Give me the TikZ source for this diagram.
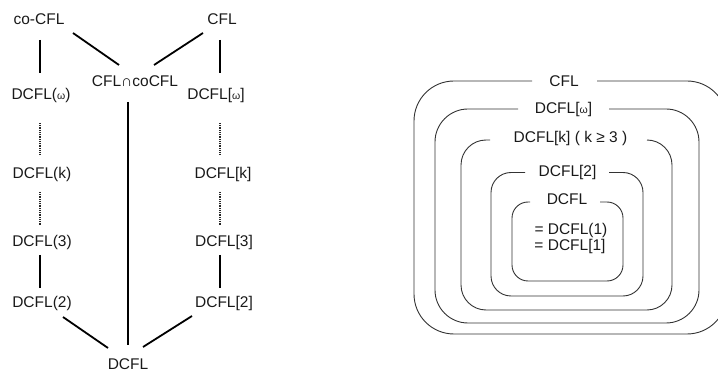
\documentclass[tikz,border=0pt]{standalone}
\usepackage{fontspec}
\setmainfont{Liberation Sans}
\newcommand{\myomega}{{\fontsize{10.5}{10}\selectfont ω}}
\begin{document}
\begin{tikzpicture}[x=1pt,y=-1pt,
  lbl/.style={anchor=base, inner sep=0pt, font=\fontsize{15.5}{18}\selectfont, text=black!90},
  edge/.style={line width=1.8pt, black},
  dots/.style={line width=1.6pt, black!85, dash pattern=on 1pt off 0.8pt},
  shell/.style={line width=0.9pt, black!80, rounded corners=#1}]
\useasboundingbox (0,0) rectangle (718,374);
\clip (0,0) rectangle (718,374);
% ---- left lattice ----
\node[lbl] (cocfl) at (39,25) {co-CFL};
\node[lbl] (cfl) at (222,25) {CFL};
\node[lbl] (cap) at (135,87) {CFL∩coCFL};
\node[lbl] (dw) at (41,100) {DCFL(\myomega)};
\node[lbl] (dW) at (216,100) {DCFL[\myomega]};
\node[lbl] (dk) at (42,179) {DCFL(k)};
\node[lbl] (dK) at (223,179) {DCFL[k]};
\node[lbl] (d3) at (42,247) {DCFL(3)};
\node[lbl] (d3r) at (224,247) {DCFL[3]};
\node[lbl] (d2) at (42,308) {DCFL(2)};
\node[lbl] (d2r) at (224,308) {DCFL[2]};
\node[lbl] (dcfl) at (128,369) {DCFL};
\draw[edge] ([shift={(1,15)}]cocfl.base) -- ([shift={(-1,-27)}]dw.base);
\draw[edge] ([shift={(34,8)}]cocfl.base) -- ([shift={(-16,-22)}]cap.base);
\draw[edge] ([shift={(-19,8)}]cfl.base) -- ([shift={(19,-22)}]cap.base);
\draw[edge] ([shift={(-2,15)}]cfl.base) -- ([shift={(4,-27)}]dW.base);
\draw[dots] ([shift={(-1,23)}]dw.base) -- ([shift={(-2,-24)}]dk.base);
\draw[dots] ([shift={(4,23)}]dW.base) -- ([shift={(-3,-24)}]dK.base);
\draw[dots] ([shift={(-2,13)}]dk.base) -- ([shift={(-2,-22)}]d3.base);
\draw[dots] ([shift={(-3,13)}]dK.base) -- ([shift={(-4,-22)}]d3r.base);
\draw[edge] ([shift={(-2,8)}]d3.base) -- ([shift={(-2,-20)}]d2.base);
\draw[edge] ([shift={(-4,8)}]d3r.base) -- ([shift={(-4,-20)}]d2r.base);
\draw[edge] ([shift={(21,9)}]d2.base) -- ([shift={(-20,-21)}]dcfl.base);
\draw[edge] ([shift={(-32,8)}]d2r.base) -- ([shift={(15,-22)}]dcfl.base);
\draw[edge] ([shift={(-7,15)}]cap.base) -- ([shift={(0,-24)}]dcfl.base);
% ---- right nested shells ----
\draw[shell=40pt] (597,81) -- (727,81) -- (727,334) -- (414,334) -- (414,81) -- (532,81);
\draw[shell=33pt] (609,109) -- (699,109) -- (699,323) -- (435,323) -- (435,109) -- (518,109);
\draw[shell=25pt] (647,140) -- (672,140) -- (672,310) -- (461,310) -- (461,140) -- (490,140);
\draw[shell=20pt] (609,172.5) -- (643,172.5) -- (643,296) -- (491,296) -- (491,172.5) -- (525,172.5);
\draw[shell=16pt] (600,202) -- (623,202) -- (623,281) -- (512,281) -- (512,202) -- (530,202);
\node[lbl] (sCFL) at (564,87) {CFL};
\node[lbl] (sW) at (563.5,114) {DCFL[\myomega]};
\node[lbl] (sK) at (570.5,143) {DCFL[k] ( k ≥ 3 )};
\node[lbl] (s2) at (567.5,177) {DCFL[2]};
\node[lbl] (s1) at (567,205) {DCFL};
\node[lbl] (e1) at (571,235) {= DCFL(1)};
\node[lbl] (e2) at (570,251) {= DCFL[1]};
\end{tikzpicture}
\end{document}
